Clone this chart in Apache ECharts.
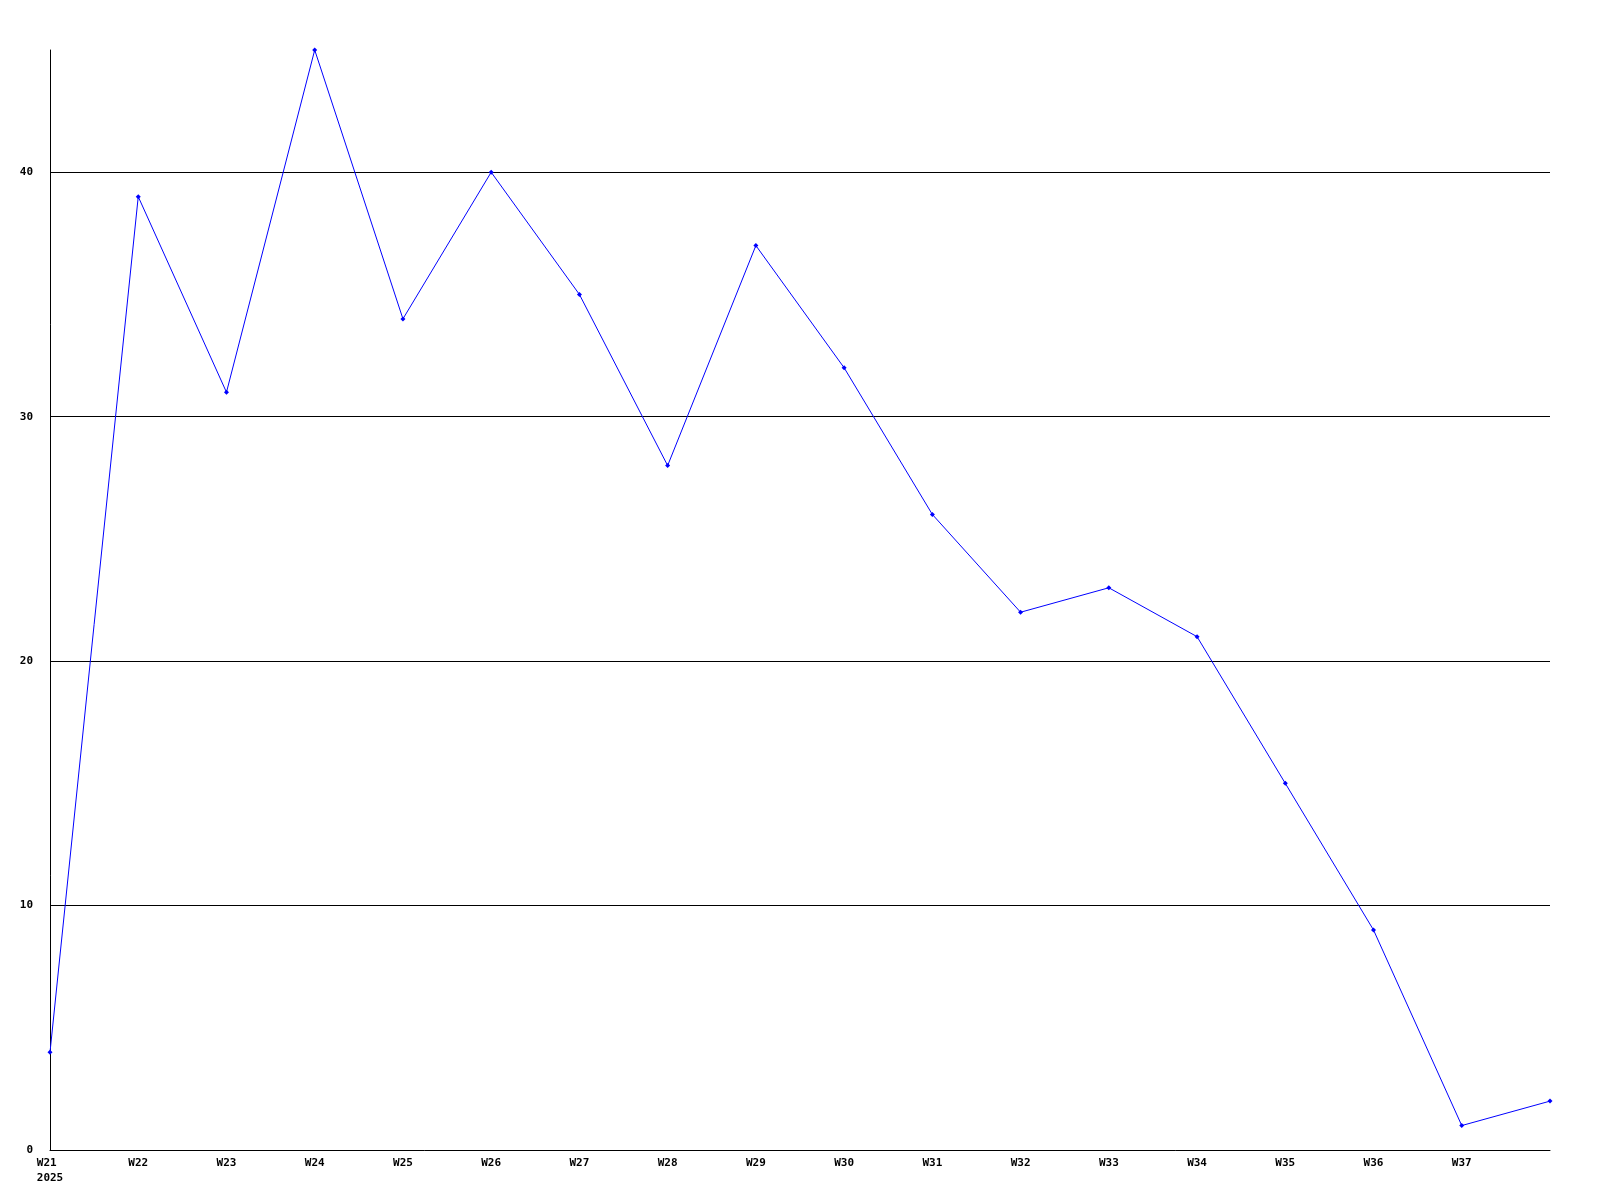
<!DOCTYPE html>
<html>
<head>
<meta charset="utf-8">
<script src="https://cdn.jsdelivr.net/npm/echarts@6/dist/echarts.min.js"></script>
<style>
html,body{margin:0;padding:0;background:#fff;}
#chart{width:1600px;height:1200px;}
</style>
</head>
<body>
<div id="chart"></div>
<script>
var NL = String.fromCharCode(10);
var weeks = ['W21','W22','W23','W24','W25','W26','W27','W28','W29','W30','W31','W32','W33','W34','W35','W36','W37','W38'];
var yearLabel = '2025';
var hiddenLabels = ['W38'];
var values = [4, 39, 31, 45, 34, 40, 35, 28, 37, 32, 26, 22, 23, 21, 15, 9, 1, 2];
var yTicks = [0, 10, 20, 30, 40];

var chart = echarts.init(document.getElementById('chart'), null, {renderer:'canvas'});
var font = {fontFamily:'DejaVu Sans Mono', fontWeight:'bold', fontSize:11, color:'#000'};
function lab(v, i) {
  if (hiddenLabels.indexOf(v) >= 0) return '';
  if (i === 0) return '{l|' + v + '}' + NL + '{l|' + yearLabel + '}';
  return '{l|' + v + '}';
}
chart.setOption({
  animation:false,
  backgroundColor:'#fff',
  grid:{left:50, right:50, top:50, bottom:50, containLabel:false},
  xAxis:{
    type:'category',
    data:weeks,
    boundaryGap:false,
    axisLine:{show:true, lineStyle:{color:'#000', width:1}},
    axisTick:{show:false},
    splitLine:{show:false},
    axisLabel:Object.assign({}, font, {
      interval:0, margin:6, lineHeight:15, align:'center', verticalAlign:'top',
      formatter:lab,
      rich:{l:Object.assign({}, font, {align:'left', lineHeight:15})}
    })
  },
  yAxis:{
    type:'value',
    min:0, max:45, interval:10,
    axisLine:{show:true, lineStyle:{color:'#000', width:1}},
    axisTick:{show:false},
    splitLine:{show:true, showMaxLine:false, showMinLine:false, lineStyle:{color:'#000', width:1}},
    axisLabel:Object.assign({}, font, {
      margin:17,
      showMaxLabel:false,
      formatter:function(v){ return yTicks.indexOf(v) >= 0 ? String(v) : ''; }
    })
  },
  series:[{
    type:'line',
    data:values,
    symbol:'diamond',
    symbolSize:5,
    showAllSymbol:true,
    lineStyle:{color:'#0000ff', width:1},
    itemStyle:{color:'#0000ff'}
  }]
});
</script>
</body>
</html>
